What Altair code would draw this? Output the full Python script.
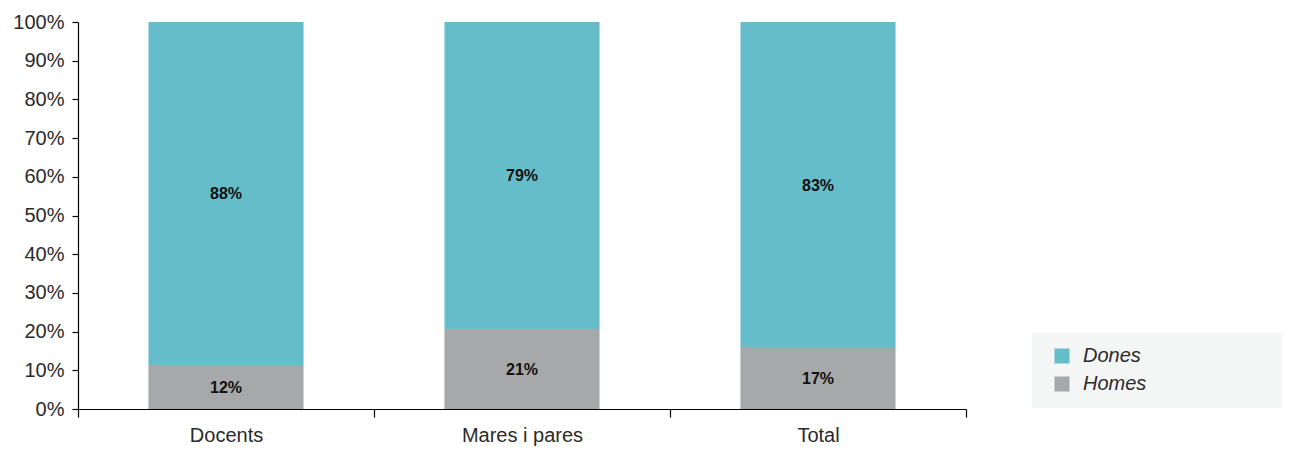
import altair as alt
import pandas as pd

categories = ["Docents", "Mares i pares", "Total"]
series = ["Dones", "Homes"]
dones = [88.6, 79.3, 84.0]
homes = [11.4, 20.7, 16.0]
dones_labels = ["88%", "79%", "83%"]
homes_labels = ["12%", "21%", "17%"]
y_ticks = list(range(0, 101, 10))
colors = ["#66BDCA", "#A7A8AA"]

rows = []
for i, c in enumerate(categories):
    rows.append({"cat": c, "serie": "Homes", "value": homes[i], "label": homes_labels[i], "ord": 0})
    rows.append({"cat": c, "serie": "Dones", "value": dones[i], "label": dones_labels[i], "ord": 1})
df = pd.DataFrame(rows)

FONT = "Liberation Sans"
W, H = 888, 387

base = alt.Chart(df).transform_stack(
    stack="value", groupby=["cat"], as_=["y0", "y1"],
    sort=[alt.SortField("ord", order="ascending")]
).transform_calculate(mid="(datum.y0 + datum.y1) / 2")

xscale = alt.Scale(paddingInner=0, paddingOuter=0)
xaxis = alt.Axis(tickBand="extent", labelAngle=0, labelFont=FONT, labelFontSize=20,
                 labelColor="#2a2a2a", labelPadding=8, tickSize=8, tickColor="#000",
                 domainColor="#000", domainWidth=1.2, tickWidth=1.2, grid=False)
yscale = alt.Scale(domain=[0, 100], nice=False)
yaxis = alt.Axis(values=y_ticks, labelOverlap=False,
                 labelExpr="datum.value + '%'", labelFont=FONT,
                 labelFontSize=20, labelColor="#2a2a2a", labelPadding=8, tickSize=6,
                 tickColor="#000", domainColor="#000", domainWidth=1.2,
                 tickWidth=1.2, grid=False)

bars = base.mark_bar(width=alt.RelativeBandSize(0.524)).encode(
    x=alt.X("cat:N", sort=categories, title=None, scale=xscale, axis=xaxis),
    y=alt.Y("y0:Q", scale=yscale, title=None, axis=yaxis),
    y2="y1:Q",
    color=alt.Color("serie:N", scale=alt.Scale(domain=series, range=colors),
                    legend=alt.Legend(title=None, orient="none", legendX=974, legendY=324,
                                      symbolType="square", symbolSize=225, symbolStrokeWidth=0,
                                      labelFont=FONT, labelFontSize=20, labelFontStyle="italic",
                                      labelColor="#2a2a2a", labelOffset=11, rowPadding=8,
                                      padding=0)),
)

text = base.mark_text(font=FONT, fontSize=16, fontWeight="bold", color="#111", baseline="middle", dy=1).encode(
    x=alt.X("cat:N", sort=categories, title=None, scale=xscale, axis=xaxis),
    y=alt.Y("mid:Q", scale=yscale, title=None, axis=yaxis),
    text="label:N",
)

bg = alt.Chart(pd.DataFrame({"a": [0]})).mark_rect(color="#F4F5F5").encode(
    x=alt.value(954), x2=alt.value(1204), y=alt.value(311), y2=alt.value(386)
)

chart = alt.layer(bg, bars, text).properties(
    width=W, height=H,
    autosize=alt.AutoSizeParams(type="none"),
    padding={"left": 70, "top": 14, "right": 316, "bottom": 42},
).configure_view(stroke=None)

chart.save("out.html", embed_options={"renderer": "svg", "actions": False})
